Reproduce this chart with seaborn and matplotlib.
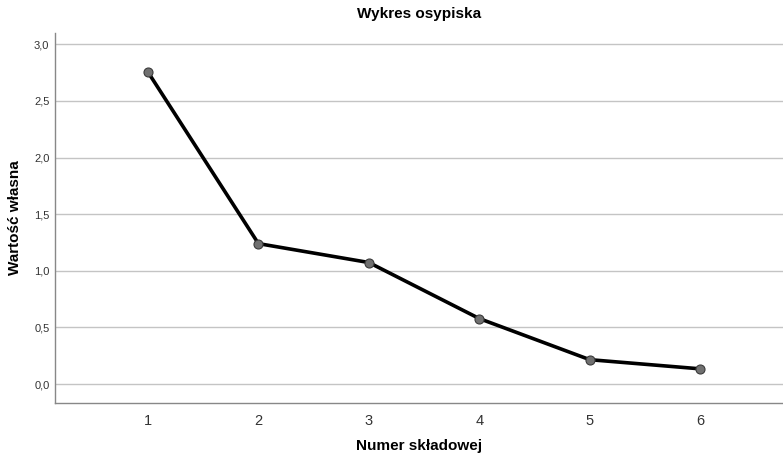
import matplotlib
matplotlib.use("Agg")
import matplotlib.pyplot as plt
import seaborn as sns
import pandas as pd
from matplotlib.ticker import FuncFormatter

components = [1, 2, 3, 4, 5, 6]
eigenvalues = [2.755, 1.24, 1.073, 0.578, 0.215, 0.134]
y_ticks = [0.0, 0.5, 1.0, 1.5, 2.0, 2.5, 3.0]

df = pd.DataFrame({"Numer składowej": components, "Wartość własna": eigenvalues})

sns.set_style("white")
plt.rcParams["font.family"] = ["Liberation Sans", "DejaVu Sans"]

W, H = 783, 458
fig = plt.figure(figsize=(W / 100, H / 100), dpi=100)
ax = fig.add_axes([0.0702, 0.12, 0.9298, 0.808])

for y in y_ticks:
    ax.axhline(y, color="#c4c4c4", lw=1.0, zorder=0)

sns.lineplot(data=df, x="Numer składowej", y="Wartość własna", ax=ax,
             color="black", lw=2.6, marker="o", markersize=6.5,
             markerfacecolor="#707070", markeredgecolor="#3a3a3a",
             markeredgewidth=0.8, zorder=3)

ax.set_xlim(0.158, 6.75)
ax.set_ylim(-0.168, 3.1)
ax.set_xticks(components)
ax.set_xticklabels([str(c) for c in components])
ax.set_yticks(y_ticks)
ax.yaxis.set_major_formatter(FuncFormatter(lambda v, p: f"{v:.1f}".replace(".", ",")))
ax.tick_params(axis="x", length=0, labelsize=10.5, labelcolor="#333333", pad=8)
ax.tick_params(axis="y", length=0, labelsize=8, labelcolor="#333333", pad=4)

for side in ["top", "right"]:
    ax.spines[side].set_visible(False)
for side in ["left", "bottom"]:
    ax.spines[side].set_color("#888888")
    ax.spines[side].set_linewidth(1.0)

ax.set_xlabel("")
ax.set_ylabel("")
fig.text(419 / W, 1 - 14 / H, "Wykres osypiska", fontsize=11, fontweight="bold",
         ha="center", va="center", color="black")
fig.text(419 / W, 1 - 446 / H, "Numer składowej", fontsize=11, fontweight="bold",
         ha="center", va="center", color="black")
fig.text(15 / W, 1 - 218 / H, "Wartość własna", fontsize=11, fontweight="bold",
         ha="center", va="center", rotation=90, color="black")

fig.savefig("out.png", dpi=100)
